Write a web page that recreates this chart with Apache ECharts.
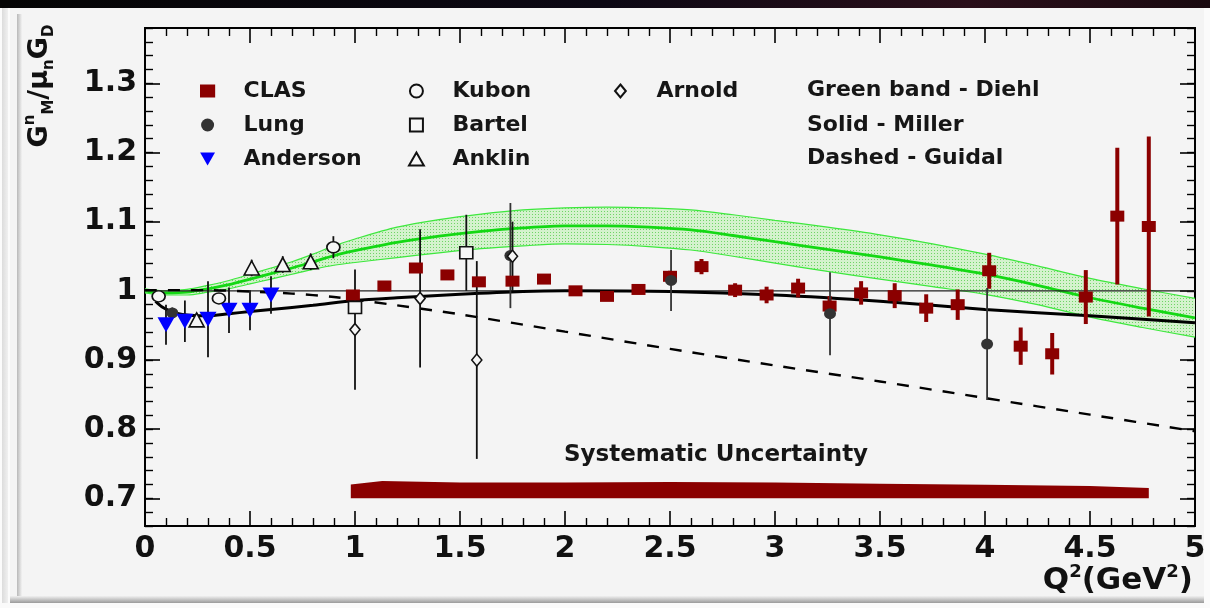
<!DOCTYPE html>
<html><head><meta charset="utf-8">
<script src="https://cdn.jsdelivr.net/npm/echarts@6/dist/echarts.min.js"></script>
<style>html,body{margin:0;padding:0;background:#f4f4f4}#c{width:1210px;height:608px}</style>
</head><body><div id="c"></div><script>
// ---------------- data ----------------
const xTicks = [0, 0.5, 1, 1.5, 2, 2.5, 3, 3.5, 4, 4.5, 5];
const yMajorTicks = [0.7, 0.8, 0.9, 1.0, 1.1, 1.2, 1.3];

const clasX = [0.99,1.14,1.29,1.44,1.59,1.75,1.90,2.05,2.20,2.35,2.50,2.65,2.81,2.96,3.11,3.26,3.41,3.57,3.72,3.87,4.02,4.17,4.32,4.48,4.63,4.78];
const clasY = [0.994,1.007,1.033,1.023,1.013,1.014,1.017,1.000,0.992,1.002,1.021,1.035,1.001,0.994,1.004,0.978,0.997,0.993,0.975,0.980,1.029,0.920,0.909,0.991,1.108,1.093];
const clasErr = [0.004,0.004,0.004,0.004,0.004,0.004,0.005,0.005,0.005,0.006,0.008,0.011,0.010,0.012,0.0135,0.0145,0.017,0.018,0.020,0.022,0.026,0.027,0.030,0.039,0.099,0.130];

const lungX = [0.13, 1.74, 2.505, 3.262, 4.01];
const lungY = [0.968, 1.051, 1.015, 0.967, 0.923];
const lungErr = [0.008, 0.076, 0.044, 0.060, 0.081];

const andX = [0.10, 0.19, 0.30, 0.40, 0.50, 0.60];
const andY = [0.951, 0.956, 0.959, 0.972, 0.972, 0.994];
const andErr = [0.029, 0.030, 0.055, 0.033, 0.029, 0.027];

const kubX = [0.065, 0.352, 0.897];
const kubY = [0.992, 0.989, 1.063];
const kubErr = [0.006, 0.008, 0.016];

const barX = [1.0, 1.53];
const barY = [0.976, 1.055];
const barErr = [0.010, 0.055];

const ankX = [0.246, 0.508, 0.656, 0.789];
const ankY = [0.958, 1.033, 1.038, 1.042];
const ankErr = [0.010, 0.012, 0.012, 0.012];

const arnX = [1.0, 1.31, 1.58, 1.75];
const arnY = [0.944, 0.989, 0.900, 1.050];
const arnErr = [0.087, 0.100, 0.143, 0.050];

// Diehl (green band)
const diehlX    = [0,0.1,0.2,0.3,0.4,0.5,0.6,0.7,0.8,0.9,1.0,1.2,1.4,1.6,1.8,2.0,2.2,2.4,2.6,2.8,3.0,3.25,3.5,3.75,4.0,4.25,4.5,4.75,5.0];
const diehlMid  = [1.000,0.997,0.998,1.003,1.009,1.017,1.025,1.033,1.042,1.051,1.058,1.070,1.079,1.086,1.091,1.094,1.094,1.092,1.088,1.080,1.071,1.060,1.049,1.037,1.024,1.008,0.990,0.975,0.961];
const diehlHigh = [1.003,1.000,1.002,1.008,1.015,1.024,1.033,1.042,1.053,1.065,1.075,1.092,1.103,1.111,1.117,1.120,1.121,1.120,1.117,1.110,1.102,1.092,1.081,1.068,1.053,1.036,1.018,1.003,0.989];
const diehlLow  = [0.997,0.994,0.994,0.998,1.003,1.010,1.017,1.024,1.031,1.037,1.041,1.048,1.055,1.061,1.065,1.068,1.067,1.064,1.059,1.050,1.040,1.028,1.017,1.006,0.995,0.980,0.962,0.947,0.933];

// Miller (solid)
const millerX = [0.05,0.08,0.12,0.16,0.2,0.25,0.3,0.4,0.5,0.6,0.8,1.0,1.2,1.5,1.8,2.0,2.5,3.0,3.5,4.0,4.5,5.0];
const millerY = [0.985,0.977,0.971,0.967,0.965,0.964,0.964,0.967,0.970,0.973,0.979,0.986,0.990,0.995,0.999,1.000,0.999,0.994,0.985,0.973,0.964,0.954];

// Guidal (dashed)
const guidalX = [0,0.3,0.5,0.7,0.9,1.2,1.5,2.0,2.5,3.0,3.5,4.0,4.5,5.0];
const guidalY = [1.001,1.001,0.999,0.996,0.991,0.979,0.966,0.941,0.916,0.892,0.869,0.845,0.821,0.797];

// systematic uncertainty band
const sysX    = [0.98,1.13,1.5,2.0,2.5,3.0,3.5,4.0,4.5,4.78];
const sysHigh = [0.720,0.725,0.723,0.723,0.7235,0.723,0.721,0.7195,0.718,0.715];
const sysLow  = [0.700,0.700,0.700,0.700,0.700,0.700,0.700,0.700,0.700,0.700];

const refX = [0, 5];
const refY = [1, 1];

// ---------------- helpers ----------------
const zip2 = (a, b) => a.map((v, i) => [v, b[i]]);
const zip3 = (a, b, c) => a.map((v, i) => [v, b[i], c[i]]);

const pc = document.createElement('canvas'); pc.width = 3; pc.height = 3;
const pg = pc.getContext('2d');
pg.fillStyle = '#d4f2cd'; pg.fillRect(0, 0, 3, 3);
pg.fillStyle = '#6fd466'; pg.fillRect(1, 1, 1, 1);
const bandPattern = { image: pc, repeat: 'repeat' };

function bandRender(xs, lo, hi, fill) {
  return function (params, api) {
    if (params.dataIndex !== 0) return null;
    const pts = [];
    for (let i = 0; i < xs.length; i++) pts.push(api.coord([xs[i], hi[i]]));
    for (let i = xs.length - 1; i >= 0; i--) pts.push(api.coord([xs[i], lo[i]]));
    return { type: 'polygon', shape: { points: pts }, style: { fill: fill, stroke: null } };
  };
}
function errRender(color, width) {
  return function (params, api) {
    const x = api.value(0), y = api.value(1), e = api.value(2);
    const p1 = api.coord([x, y - e]), p2 = api.coord([x, y + e]);
    return { type: 'line', shape: { x1: p1[0], y1: p1[1], x2: p2[0], y2: p2[1] },
             style: { stroke: color, lineWidth: width } };
  };
}
function errSeries(name, xs, ys, es, color, width) {
  return { type: 'custom', name: name, data: zip3(xs, ys, es), renderItem: errRender(color, width),
           encode: { x: 0, y: 1 }, z: 5, clip: true, silent: true };
}

const FONT = 'DejaVu Sans';
const open = { color: '#f6f6f6', borderColor: '#111', borderWidth: 1.6 };
const triDown = 'path://M0,0 L16,0 L8,14 Z';
const triUp = 'path://M8,0 L16,14 L0,14 Z';
const sqClas = 'path://M0,0 H14 V12 H0 Z';
const sqBartel = 'path://M0,0 H13 V13 H0 Z';
const diamondArn = 'path://M5,0 L10,6 L5,12 L0,6 Z';

const yCommon = {
  type: 'value', min: 0.66, max: 1.38, splitLine: { show: false },
  axisLine: { show: true, lineStyle: { color: '#000', width: 2 } }
};
const legendText = { fontFamily: FONT, fontWeight: 'bold', fontSize: 22, color: '#161616', lineHeight: 22 };
const legendBase = { orient: 'vertical', top: 80, itemWidth: 62, itemHeight: 13, itemGap: 12,
                     padding: 0, selectedMode: false, textStyle: legendText };

const option = {
  animation: false,
  backgroundColor: '#f4f4f4',
  grid: { left: 145, right: 15, top: 28, bottom: 82 },
  xAxis: [
    { type: 'value', min: xTicks[0], max: xTicks[xTicks.length - 1], interval: 0.5, position: 'bottom',
      axisLine: { lineStyle: { color: '#000', width: 2 } },
      axisTick: { inside: true, length: 15, lineStyle: { color: '#000', width: 1.6 } },
      minorTick: { show: true, splitNumber: 5, length: 8, lineStyle: { color: '#000', width: 1.4 } },
      axisLabel: { fontFamily: FONT, fontWeight: 'bold', fontSize: 30, color: '#111', margin: 8 },
      splitLine: { show: false }, minorSplitLine: { show: false } },
    { type: 'value', min: xTicks[0], max: xTicks[xTicks.length - 1], interval: 0.5, position: 'top',
      axisLine: { lineStyle: { color: '#000', width: 2 } },
      axisTick: { inside: true, length: 15, lineStyle: { color: '#000', width: 1.6 } },
      minorTick: { show: true, splitNumber: 5, length: 8, lineStyle: { color: '#000', width: 1.4 } },
      axisLabel: { show: false }, splitLine: { show: false } }
  ],
  yAxis: [
    Object.assign({}, yCommon, { position: 'left', interval: 0.02,
      axisTick: { inside: true, length: 8, lineStyle: { color: '#000', width: 1.4 } },
      axisLabel: { fontFamily: FONT, fontWeight: 'bold', fontSize: 30, color: '#111', margin: 8,
        formatter: function (v) {
          const r = Math.round(v * 10) / 10;
          return (Math.abs(v - r) < 1e-6 && yMajorTicks.some(t => Math.abs(t - r) < 1e-6)) ? String(r) : '';
        } } }),
    Object.assign({}, yCommon, { position: 'left',
      axisTick: { inside: true, length: 15, customValues: yMajorTicks, lineStyle: { color: '#000', width: 1.6 } },
      axisLabel: { show: false } }),
    Object.assign({}, yCommon, { position: 'right', interval: 0.02,
      axisTick: { inside: true, length: 8, lineStyle: { color: '#000', width: 1.4 } },
      axisLabel: { show: false } }),
    Object.assign({}, yCommon, { position: 'right',
      axisTick: { inside: true, length: 15, customValues: yMajorTicks, lineStyle: { color: '#000', width: 1.6 } },
      axisLabel: { show: false } })
  ],
  legend: [
    Object.assign({}, legendBase, { left: 200, data: [{ name: 'CLAS', icon: sqClas }, 'Lung', 'Anderson'] }),
    Object.assign({}, legendBase, { left: 408, data: ['Kubon', { name: 'Bartel', icon: sqBartel }, 'Anklin'] }),
    Object.assign({}, legendBase, { left: 614, data: [{ name: 'Arnold', icon: diamondArn }] })
  ],
  graphic: [
    { type: 'rect', shape: { x: 0, y: 0, width: 1210, height: 8 }, z: -5, silent: true,
      style: { fill: new echarts.graphic.LinearGradient(0, 0, 1, 0, [
        { offset: 0, color: '#050505' }, { offset: 0.5, color: '#0c0814' }, { offset: 0.8, color: '#2a0f1a' }, { offset: 1, color: '#1a0a10' }]) } },
    { type: 'rect', shape: { x: 0, y: 8, width: 10, height: 600 }, z: -5, silent: true, style: { fill: '#fbfbfb' } },
    { type: 'rect', shape: { x: 2, y: 8, width: 6, height: 600 }, z: -5, silent: true,
      style: { fill: new echarts.graphic.LinearGradient(0, 0, 1, 0, [{ offset: 0, color: '#dcdcdc' }, { offset: 1, color: '#f0f0f0' }]) } },
    { type: 'rect', shape: { x: 17, y: 14, width: 5, height: 588 }, z: -5, silent: true,
      style: { fill: new echarts.graphic.LinearGradient(0, 0, 1, 0, [{ offset: 0, color: '#b8b8b8' }, { offset: 1, color: '#f2f2f2' }]) } },
    { type: 'rect', shape: { x: 10, y: 596, width: 1200, height: 7 }, z: -5, silent: true,
      style: { fill: new echarts.graphic.LinearGradient(0, 0, 0, 1, [{ offset: 0, color: '#f0f0f0' }, { offset: 1, color: '#9a9a9a' }]) } },
    { type: 'rect', shape: { x: 0, y: 603, width: 1210, height: 5 }, z: -5, silent: true, style: { fill: '#fafafa' } },
    { type: 'rect', shape: { x: 1204, y: 8, width: 6, height: 600 }, z: -5, silent: true, style: { fill: '#fbfbfb' } },
    // y axis title
    { type: 'text', x: 40, y: 86, rotation: Math.PI / 2, z: 10, silent: true,
      style: { text: '{g|G}{sup|n}{sub|M}{g|/μ}{sub|n}{g|G}{sub|D}', align: 'center', verticalAlign: 'middle',
        rich: {
          g: { fontFamily: FONT, fontWeight: 'bold', fontSize: 27, lineHeight: 34, fill: '#111' },
          sup: { fontFamily: FONT, fontWeight: 'bold', fontSize: 15, lineHeight: 18, verticalAlign: 'top', fill: '#111' },
          sub: { fontFamily: FONT, fontWeight: 'bold', fontSize: 15, lineHeight: 18, verticalAlign: 'bottom', fill: '#111' }
        } } },
    // x axis title
    { type: 'text', x: 1193, y: 581, z: 10, silent: true,
      style: { text: '{b|Q}{s|2}{b|(GeV}{s|2}{b|)}', align: 'right', verticalAlign: 'middle',
        rich: {
          b: { fontFamily: FONT, fontWeight: 'bold', fontSize: 31, lineHeight: 36, fill: '#111' },
          s: { fontFamily: FONT, fontWeight: 'bold', fontSize: 18, lineHeight: 22, verticalAlign: 'top', fill: '#111' }
        } } },
    // right column of legend text
    { type: 'text', x: 807, y: 90, z: 10, silent: true,
      style: { text: 'Green band - Diehl', fontFamily: FONT, fontWeight: 'bold', fontSize: 22, fill: '#161616', verticalAlign: 'middle' } },
    { type: 'text', x: 807, y: 125, z: 10, silent: true,
      style: { text: 'Solid - Miller', fontFamily: FONT, fontWeight: 'bold', fontSize: 22, fill: '#161616', verticalAlign: 'middle' } },
    { type: 'text', x: 807, y: 158, z: 10, silent: true,
      style: { text: 'Dashed - Guidal', fontFamily: FONT, fontWeight: 'bold', fontSize: 22, fill: '#161616', verticalAlign: 'middle' } },
    { type: 'text', x: 716, y: 455, z: 10, silent: true,
      style: { text: 'Systematic Uncertainty', fontFamily: FONT, fontWeight: 'bold', fontSize: 23, fill: '#161616', align: 'center', verticalAlign: 'middle' } }
  ],
  series: [
    // systematic band
    { type: 'custom', name: 'sys', data: [[sysX[0], sysLow[0]]], renderItem: bandRender(sysX, sysLow, sysHigh, '#8b0000'),
      encode: { x: 0, y: 1 }, z: 1, silent: true, clip: true },
    // Diehl band
    { type: 'custom', name: 'diehlBand', data: [[diehlX[0], diehlLow[0]]], renderItem: bandRender(diehlX, diehlLow, diehlHigh, bandPattern),
      encode: { x: 0, y: 1 }, z: 1, silent: true, clip: true },
    { type: 'line', name: 'diehlHigh', data: zip2(diehlX, diehlHigh), showSymbol: false, smooth: 0.3, silent: true, z: 2,
      lineStyle: { color: '#3ee83e', width: 1.2 } },
    { type: 'line', name: 'diehlLow', data: zip2(diehlX, diehlLow), showSymbol: false, smooth: 0.3, silent: true, z: 2,
      lineStyle: { color: '#3ee83e', width: 1.2 } },
    { type: 'line', name: 'Diehl', data: zip2(diehlX, diehlMid), showSymbol: false, smooth: 0.3, silent: true, z: 3,
      lineStyle: { color: '#14d814', width: 2.8 } },
    // reference line at 1
    { type: 'line', name: 'ref', data: zip2(refX, refY), showSymbol: false, silent: true, z: 3,
      lineStyle: { color: '#222', width: 1.3 } },
    { type: 'line', name: 'Miller', data: zip2(millerX, millerY), showSymbol: false, smooth: 0.3, silent: true, z: 3,
      lineStyle: { color: '#000', width: 3 } },
    { type: 'line', name: 'Guidal', data: zip2(guidalX, guidalY), showSymbol: false, smooth: 0.3, silent: true, z: 3,
      lineStyle: { color: '#000', width: 2.4, type: [12, 11] } },
    // error bars
    errSeries('clasErr', clasX, clasY, clasErr, '#8b0000', 4),
    errSeries('lungErr', lungX, lungY, lungErr, '#333', 1.8),
    errSeries('andErr', andX, andY, andErr, '#111', 1.8),
    errSeries('kubErr', kubX, kubY, kubErr, '#111', 1.8),
    errSeries('barErr', barX, barY, barErr, '#111', 1.8),
    errSeries('ankErr', ankX, ankY, ankErr, '#111', 1.8),
    errSeries('arnErr', arnX, arnY, arnErr, '#111', 1.8),
    // markers
    { type: 'scatter', name: 'CLAS', data: zip2(clasX, clasY), symbol: 'rect', symbolSize: [14, 11], z: 6,
      itemStyle: { color: '#8b0000', opacity: 1 } },
    { type: 'scatter', name: 'Lung', data: zip2(lungX, lungY), symbol: 'circle', symbolSize: [12, 11], z: 6,
      itemStyle: { color: '#333', opacity: 1 } },
    { type: 'scatter', name: 'Anderson', data: zip2(andX, andY), symbol: triDown, symbolSize: [17, 15], z: 6,
      itemStyle: { color: '#0000ff', opacity: 1 } },
    { type: 'scatter', name: 'Kubon', data: zip2(kubX, kubY), symbol: 'circle', symbolSize: [13, 11], z: 6,
      itemStyle: Object.assign({ opacity: 1 }, open) },
    { type: 'scatter', name: 'Bartel', data: zip2(barX, barY), symbol: 'rect', symbolSize: [13, 12], z: 6,
      itemStyle: Object.assign({ opacity: 1 }, open) },
    { type: 'scatter', name: 'Anklin', data: zip2(ankX, ankY), symbol: triUp, symbolSize: [15, 14], z: 6,
      itemStyle: Object.assign({ opacity: 1 }, open) },
    { type: 'scatter', name: 'Arnold', data: zip2(arnX, arnY), symbol: 'diamond', symbolSize: [10, 12], z: 6,
      itemStyle: Object.assign({ opacity: 1 }, open) }
  ]
};

const chart = echarts.init(document.getElementById('c'), null, { renderer: 'canvas' });
chart.setOption(option);
</script></body></html>
